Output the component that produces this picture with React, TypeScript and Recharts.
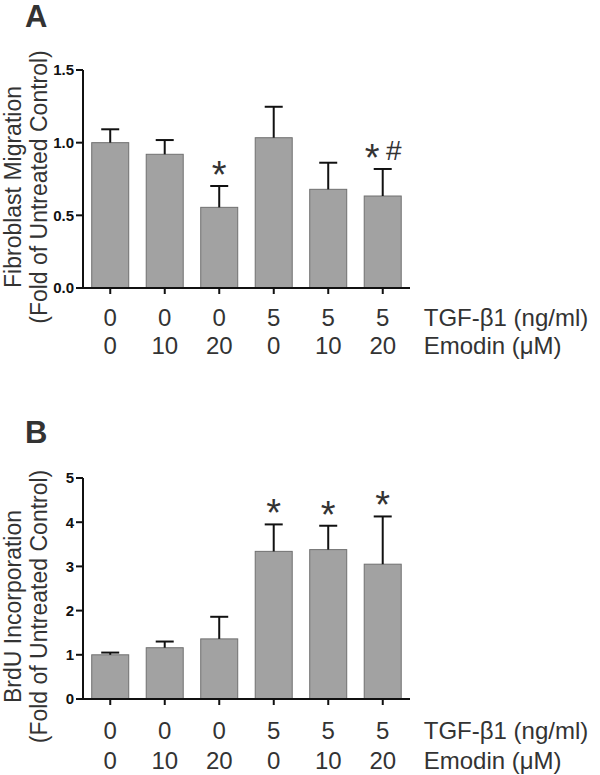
import React from 'react';
import { BarChart, Bar, XAxis, YAxis } from 'recharts';

// treatment groups (shared by both panels)
const tgfDoses = ['0', '0', '0', '5', '5', '5'];
const emodinDoses = ['0', '10', '20', '0', '10', '20'];

// panel A: fibroblast migration, mean + SEM
const migrationMean = [1.0, 0.92, 0.555, 1.034, 0.679, 0.633];
const migrationSem = [0.092, 0.098, 0.147, 0.213, 0.183, 0.186];
const migrationMarks = ['', '', '*', '', '', '*#'];
const migrationTicks = [0, 0.5, 1.0, 1.5];

// panel B: BrdU incorporation, mean + SEM
const brduMean = [1.0, 1.16, 1.36, 3.34, 3.38, 3.05];
const brduSem = [0.05, 0.14, 0.5, 0.61, 0.54, 1.08];
const brduMarks = ['', '', '', '*', '*', '*'];
const brduTicks = [0, 1, 2, 3, 4, 5];

const FONT = '"Liberation Sans", Arial, sans-serif';
const TEXT = '#333333';

const buildRows = (mean: number[], sem: number[], marks: string[]) =>
  mean.map((m, i) => ({ key: i, mean: m, sem: sem[i], mark: marks[i] }));

// bar with a one-sided (upper) error whisker and significance marks
const BarWithError = (props: any) => {
  const { x, y, width, height, payload } = props;
  const cx = x + width / 2;
  const perUnit = payload.mean ? height / payload.mean : 0;
  const top = y - payload.sem * perUnit;
  const capHalf = 9;
  const hasHash = payload.mark.includes('#');
  return (
    <g>
      <rect x={x} y={y} width={width} height={height} fill="#a2a2a2" stroke="#707070" strokeWidth={1} />
      <line x1={cx} y1={y} x2={cx} y2={top} stroke="#111" strokeWidth={2} />
      <line x1={cx - capHalf} y1={top} x2={cx + capHalf} y2={top} stroke="#111" strokeWidth={2} />
      {payload.mark.includes('*') && (
        <text x={hasHash ? cx - 10.5 : cx} y={top + 2} textAnchor="middle" fontFamily={FONT} fontSize={38} fill={TEXT}>*</text>
      )}
      {hasHash && (
        <text x={cx + 11} y={top - 9} textAnchor="middle" fontFamily={FONT} fontSize={28} fill={TEXT}>#</text>
      )}
    </g>
  );
};

const makeTick = (row1: number, row2: number) => (props: any) => {
  const { x, y, payload } = props;
  const i = payload.value;
  const last = i === tgfDoses.length - 1;
  return (
    <g fontFamily={FONT} fontSize={24} fill={TEXT}>
      <text x={x} y={y + row1} textAnchor="middle" fill={TEXT}>{tgfDoses[i]}</text>
      <text x={x} y={y + row2} textAnchor="middle" fill={TEXT}>{emodinDoses[i]}</text>
      {last && (
        <>
          <text x={x + 41} y={y + row1} textAnchor="start" fill={TEXT}>TGF-β1 (ng/ml)</text>
          <text x={x + 41} y={y + row2} textAnchor="start" fill={TEXT}>Emodin (μM)</text>
        </>
      )}
    </g>
  );
};

const makeYLabel = (lines: string[], dy: number) => (props: any) => {
  const { viewBox } = props;
  const cy = viewBox.y + viewBox.height / 2 + dy;
  const xs = [21, 47];
  return (
    <g>
      {lines.map((t, i) => (
        <text
          key={i}
          x={xs[i]}
          y={cy}
          transform={`rotate(-90 ${xs[i]} ${cy})`}
          textAnchor="middle"
          fontFamily={FONT}
          fontSize={23}
          fill={TEXT}
        >
          {t}
        </text>
      ))}
    </g>
  );
};

interface PanelProps {
  rows: any[];
  domain: [number, number];
  ticks: number[];
  fmt: (v: number) => string;
  height: number;
  top: number;
  xHeight: number;
  label: string[];
  labelDy: number;
  row1: number;
  row2: number;
}

const Panel = ({ rows, domain, ticks, fmt, height, top, xHeight, label, labelDy, row1, row2 }: PanelProps) => (
  <BarChart width={600} height={height} data={rows} margin={{ top, right: 190, left: 0, bottom: 0 }} barCategoryGap="16%">
    <XAxis
      dataKey="key"
      height={xHeight}
      axisLine={{ stroke: '#111', strokeWidth: 2 }}
      tickLine={{ stroke: '#111', strokeWidth: 2 }}
      tickSize={6}
      tickMargin={2}
      tick={makeTick(row1, row2)}
      interval={0}
    />
    <YAxis
      width={83}
      domain={domain}
      ticks={ticks}
      tickFormatter={fmt}
      axisLine={{ stroke: '#111', strokeWidth: 2 }}
      tickLine={{ stroke: '#111', strokeWidth: 2 }}
      tickSize={7}
      tickMargin={2}
      tick={{ fontFamily: FONT, fontSize: 15, fontWeight: 'bold', fill: '#111' }}
      label={{ content: makeYLabel(label, labelDy) } as any}
    />
    <Bar dataKey="mean" shape={BarWithError} isAnimationActive={false} />
  </BarChart>
);

const letterStyle: React.CSSProperties = {
  position: 'absolute',
  left: 25,
  fontFamily: FONT,
  fontWeight: 'bold',
  fontSize: 31,
  lineHeight: 1,
  color: TEXT,
};

export default function App() {
  return (
    <div style={{ position: 'absolute', left: 0, top: 0, width: 600, height: 775, background: '#fff' }}>
      <div style={{ position: 'absolute', left: 0, top: 0 }}>
        <Panel
          rows={buildRows(migrationMean, migrationSem, migrationMarks)}
          domain={[0, 1.5]}
          ticks={migrationTicks}
          fmt={(v) => v.toFixed(1)}
          height={380}
          top={70}
          xHeight={92}
          label={['Fibroblast Migration', '(Fold of Untreated Control)']}
          labelDy={8}
          row1={29.6}
          row2={57.6}
        />
      </div>
      <div style={{ position: 'absolute', left: 0, top: 380 }}>
        <Panel
          rows={buildRows(brduMean, brduSem, brduMarks)}
          domain={[0, 5]}
          ticks={brduTicks}
          fmt={(v) => String(v)}
          height={395}
          top={98}
          xHeight={76}
          label={['BrdU Incorporation', '(Fold of Untreated Control)']}
          labelDy={18}
          row1={32.3}
          row2={61.8}
        />
      </div>
      <div style={{ ...letterStyle, top: 1 }}>A</div>
      <div style={{ ...letterStyle, top: 417 }}>B</div>
    </div>
  );
}
